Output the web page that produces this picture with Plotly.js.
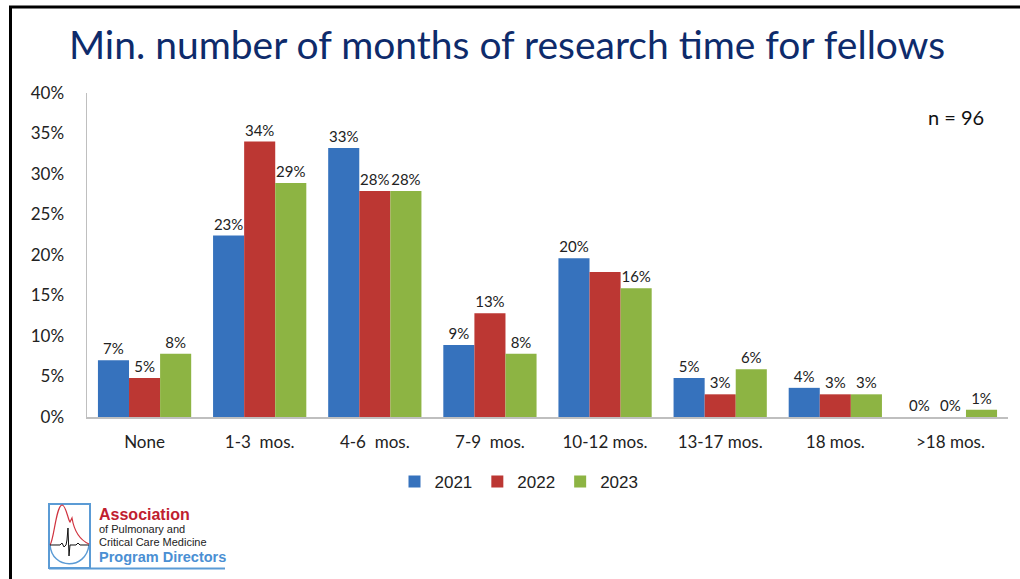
<!DOCTYPE html>
<html><head><meta charset="utf-8">
<script src="https://cdn.plot.ly/plotly-3.0.1.min.js"></script>
<style>html,body{margin:0;padding:0;background:#fff}#chart{width:1020px;height:579px}</style>
</head><body><div id="chart"></div>
<script>
const categories = ['None','1-3  mos.','4-6  mos.','7-9  mos.','10-12 mos.','13-17 mos.','18 mos.','>18 mos.'];
const years = ['2021','2022','2023'];
const v2021 = [7.0, 22.4, 33.2, 8.9, 19.6, 4.8, 3.6, 0];
const v2022 = [4.8, 34.0, 27.9, 12.8, 17.9, 2.8, 2.8, 0];
const v2023 = [7.8, 28.9, 27.9, 7.8, 15.9, 5.9, 2.8, 0.9];
const l2021 = ['7%','23%','33%','9%','20%','5%','4%','0%'];
const l2022 = ['5%','34%','28%','13%','','3%','3%','0%'];
const l2023 = ['8%','29%','28%','8%','16%','6%','3%','1%'];
const yTickVals = [0,5,10,15,20,25,30,35,40];
const yTickText = ['0%','5%','10%','15%','20%','25%','30%','35%','40%'];
const colors = ['#3672BD','#BC3733','#8DB443'];

const W=1020,H=579,ML=87,MR=12,MT=93,MB=162;
const PW=W-ML-MR, PH=H-MT-MB;
const X=px=>(px-ML)/PW, Y=py=>(H-MB-py)/PH;

const series=[v2021,v2022,v2023], labels=[l2021,l2022,l2023];
const traces = series.map((v,i)=>({
  type:'bar', name:years[i], x:categories, y:v, text:labels[i],
  texttemplate:'%{text}', textposition:'outside', cliponaxis:false,
  textfont:{family:'Lato, Noto Sans, sans-serif', size:15, color:'#222'},
  marker:{color:colors[i]}, hoverinfo:'skip'
}));

function P(pts){
  return pts.map(p=>(X(p[0])).toFixed(5)+','+(Y(p[1])).toFixed(5)).join(' ');
}
function poly(pts){ return 'M '+P([pts[0]])+pts.slice(1).map(p=>' L '+P([p])).join(''); }
const shapes = [
  {type:'line',xref:'paper',yref:'paper',x0:X(9),x1:X(1020),y0:Y(7),y1:Y(7),line:{color:'#000',width:3}},
  {type:'line',xref:'paper',yref:'paper',x0:X(10.5),x1:X(10.5),y0:Y(6),y1:Y(579),line:{color:'#000',width:3}},
  {type:'rect',xref:'paper',yref:'paper',x0:X(49),x1:X(90),y0:Y(504),y1:Y(568),line:{color:'#5B9BD5',width:2}},
  {type:'line',xref:'paper',yref:'paper',x0:X(49),x1:X(225),y0:Y(568.5),y1:Y(568.5),line:{color:'#5B9BD5',width:2}},
  {type:'path',xref:'paper',yref:'paper',line:{color:'#5B9BD5',width:1.5},
   path:'M '+P([[50,545]])+' C '+P([[52,570],[86,570],[89,545]])},
  {type:'path',xref:'paper',yref:'paper',line:{color:'#D0333F',width:1.2},
   path:'M '+P([[50,545]])+' C '+P([[54,540],[56,506],[62,505]])+' C '+P([[66,505],[68,520],[70,522]])+' L '+P([[72,518]])+' C '+P([[74,530],[80,540],[89,544]])},
  {type:'path',xref:'paper',yref:'paper',line:{color:'#111',width:1},
   path:poly([[50,545],[60,545],[62,543],[64,547],[66,545],[67,540],[68,528],[69,556],[70,545],[76,545],[78,543],[80,545],[89,545]])},
];
const ann = [
  {xref:'paper',yref:'paper',x:X(956),y:Y(117),text:'n = 96',showarrow:false,xanchor:'center',yanchor:'middle',font:{family:'Lato, Noto Sans, sans-serif',size:20,color:'#111'}},
  {xref:'paper',yref:'paper',x:X(97),y:Y(514),text:'<b>Association</b>',showarrow:false,xanchor:'left',yanchor:'middle',font:{family:'Liberation Sans, Arial, sans-serif',size:16,color:'#C0202F'}},
  {xref:'paper',yref:'paper',x:X(97),y:Y(529),text:'of Pulmonary and',showarrow:false,xanchor:'left',yanchor:'middle',font:{family:'Liberation Sans, Arial, sans-serif',size:11,color:'#222'}},
  {xref:'paper',yref:'paper',x:X(97),y:Y(542),text:'Critical Care Medicine',showarrow:false,xanchor:'left',yanchor:'middle',font:{family:'Liberation Sans, Arial, sans-serif',size:11,color:'#222'}},
  {xref:'paper',yref:'paper',x:X(97),y:Y(557),text:'<b>Program Directors</b>',showarrow:false,xanchor:'left',yanchor:'middle',font:{family:'Liberation Sans, Arial, sans-serif',size:14.5,color:'#4A8FD3'}},
];

const layout = {
  width:W,height:H,margin:{l:ML,r:MR,t:MT,b:MB},
  paper_bgcolor:'#fff',plot_bgcolor:'#fff',
  title:{text:'Min. number of months of research time for fellows',x:X(507),xanchor:'center',xref:'paper',y:1-45/H,yanchor:'middle',
    font:{family:'Lato, Noto Sans, sans-serif',size:39,color:'#0E2B6B'}},
  barmode:'group',bargap:0.19,bargroupgap:0,
  xaxis:{showline:true,linecolor:'#BFBFBF',linewidth:1.5,ticks:'',showgrid:false,zeroline:false,
    tickfont:{family:'Lato, Noto Sans, sans-serif',size:17,color:'#222'},ticklabelstandoff:9},
  yaxis:{range:[0,40],tickvals:yTickVals,ticktext:yTickText,showline:true,linecolor:'#BFBFBF',linewidth:1.5,
    showgrid:false,zeroline:false,ticks:'',ticklabelstandoff:18,
    tickfont:{family:'Lato, Noto Sans, sans-serif',size:17,color:'#222'}},
  showlegend:true,
  legend:{orientation:'h',x:X(519),xanchor:'center',y:Y(482),yanchor:'middle',
    font:{family:'Liberation Sans Narrow, Liberation Sans, Arial, sans-serif',size:17,color:'#222'},
    itemwidth:30,tracegroupgap:0},
  shapes:shapes, annotations:ann
};
Plotly.newPlot('chart',traces,layout,{displayModeBar:false,staticPlot:true});
</script></body></html>
